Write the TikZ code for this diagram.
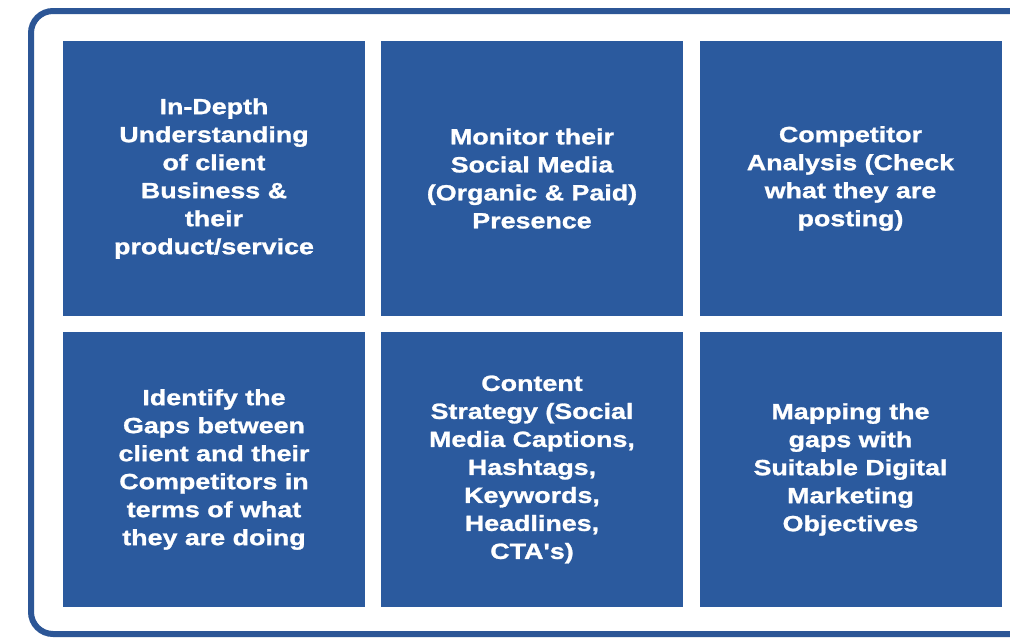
\documentclass[tikz,border=0pt]{standalone}
\usepackage{fontspec}
\setmainfont{Liberation Sans}
\newfontfamily\cardfont[FakeStretch=1.22, FakeBold=1.2]{Liberation Sans Bold}
\definecolor{boxblue}{RGB}{43,90,158}
\definecolor{frameblue}{RGB}{44,86,150}
\tikzset{
  card/.style={fill=boxblue, draw=none, minimum width=302pt, minimum height=275pt,
    inner sep=0pt, text=white, align=center,
    font=\cardfont\fontsize{22}{28}\selectfont},
}
\begin{document}
\begin{tikzpicture}[x=1pt,y=-1pt]
\useasboundingbox (0,0) rectangle (1010,640);
\fill[white] (0,0) rectangle (1010,640);
\draw[frameblue, line width=6pt, rounded corners=22pt] (31,11) rectangle (1060,634);
\node[card] (a) at (214,178.5) {In-Depth\\Understanding\\of client\\Business \&\\their\\product/service};
\node[card] (b) at (532,178.5) {Monitor their\\Social Media\\(Organic \& Paid)\\Presence};
\node[card] (c) at (850.5,178.5) {Competitor\\Analysis (Check\\what they are\\posting)};
\node[card] (d) at (214,469.5) {Identify the\\Gaps between\\client and their\\Competitors in\\terms of what\\they are doing};
\node[card] (e) at (532,469.5) {Content\\Strategy (Social\\Media Captions,\\Hashtags,\\Keywords,\\Headlines,\\CTA\char"27 s)};
\node[card] (f) at (850.5,469.5) {Mapping the\\gaps with\\Suitable Digital\\Marketing\\Objectives};
\end{tikzpicture}
\end{document}
